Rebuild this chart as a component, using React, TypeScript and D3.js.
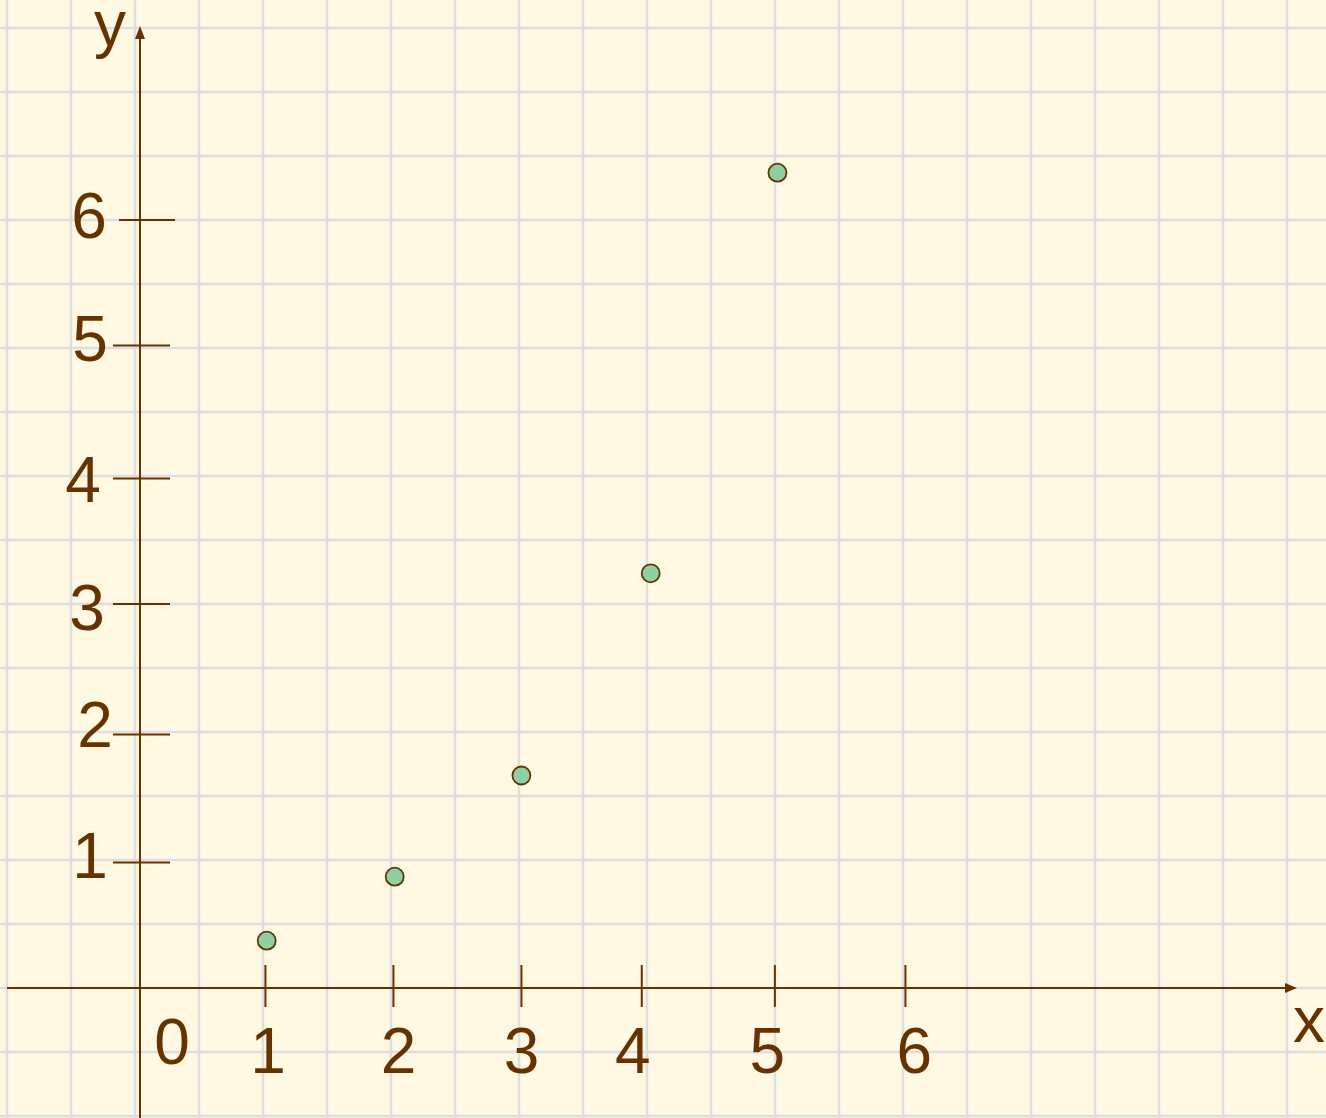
import React, { useEffect, useRef } from 'react';
import * as d3 from 'd3';

// points (x, y in plot units)
const pointX = [0.99, 1.99, 2.98, 3.99, 4.98];
const pointY = [0.37, 0.87, 1.66, 3.24, 6.37];

// tick marks as drawn (slightly hand placed)
const xTickValues = [0.98, 1.98, 2.98, 3.92, 4.96, 5.98];
const xTickLabels = ['1', '2', '3', '4', '5', '6'];
const xLabelAt = [1.0, 2.02, 2.98, 3.85, 4.9, 6.05];

const yTickValues = [0.98, 1.98, 3.0, 3.98, 5.02, 6.0];
const yTickLabels = ['1', '2', '3', '4', '5', '6'];
const yLabelAt = [0.86, 1.88, 2.8, 3.8, 4.9, 5.86];
const yLabelX = [90, 95, 87, 83, 90, 89];

const W = 1326;
const H = 1118;
const ink = '#663300';

function App() {
  const svgRef = useRef(null);

  useEffect(() => {
    document.body.style.margin = '0';
    const svg = d3.select(svgRef.current);
    svg.selectAll('*').remove();

    // one unit = 128px (two grid cells)
    const x = d3.scaleLinear().domain([0, 1]).range([140, 268]);
    const y = d3.scaleLinear().domain([0, 1]).range([988, 860]);

    svg.append('rect').attr('width', W).attr('height', H).attr('fill', '#fff8e3');

    // squared paper
    const grid = svg.append('g').attr('stroke', '#dedede').attr('stroke-width', 2.5);
    grid.selectAll('line.v')
      .data(d3.range(7, W, 64))
      .enter().append('line')
      .attr('x1', d => d).attr('x2', d => d)
      .attr('y1', 0).attr('y2', H);
    grid.selectAll('line.h')
      .data(d3.range(28, H, 64))
      .enter().append('line')
      .attr('y1', d => d).attr('y2', d => d)
      .attr('x1', 0).attr('x2', W);

    const axes = svg.append('g').attr('stroke', ink).attr('stroke-width', 2);
    // x axis
    axes.append('line')
      .attr('x1', 7).attr('x2', 1288)
      .attr('y1', y(0)).attr('y2', y(0));
    svg.append('path')
      .attr('d', `M1297,${y(0)} L1285,${y(0) - 5} L1285,${y(0) + 5} Z`)
      .attr('fill', ink);
    // y axis
    axes.append('line')
      .attr('x1', x(0)).attr('x2', x(0))
      .attr('y1', H).attr('y2', 36);
    svg.append('path')
      .attr('d', `M${x(0)},26 L${x(0) - 5},39 L${x(0) + 5},39 Z`)
      .attr('fill', ink);

    axes.selectAll('line.xt')
      .data(xTickValues)
      .enter().append('line')
      .attr('x1', d => x(d)).attr('x2', d => x(d))
      .attr('y1', 965).attr('y2', 1007);
    axes.selectAll('line.yt')
      .data(yTickValues)
      .enter().append('line')
      .attr('y1', d => y(d)).attr('y2', d => y(d))
      .attr('x1', (d, i) => (i === 5 ? 119 : 113))
      .attr('x2', (d, i) => (i === 5 ? 175 : 170));

    const text = svg.append('g')
      .attr('fill', ink)
      .attr('font-family', '"Liberation Sans", Arial, sans-serif')
      .attr('font-size', 64)
      .attr('text-anchor', 'middle');

    text.selectAll('text.xl')
      .data(xTickLabels)
      .enter().append('text')
      .attr('x', (d, i) => x(xLabelAt[i]))
      .attr('y', 1073)
      .text(d => d);
    text.selectAll('text.yl')
      .data(yTickLabels)
      .enter().append('text')
      .attr('x', (d, i) => yLabelX[i])
      .attr('y', (d, i) => y(yLabelAt[i]))
      .text(d => d);

    text.append('text').attr('x', 172).attr('y', 1064).text('0');
    text.append('text').attr('x', 110).attr('y', 46).text('y');
    text.append('text').attr('x', 1309).attr('y', 1042).text('x');

    svg.selectAll('circle')
      .data(pointX)
      .enter().append('circle')
      .attr('cx', d => x(d))
      .attr('cy', (d, i) => y(pointY[i]))
      .attr('r', 9)
      .attr('fill', '#8fd0a2')
      .attr('stroke', ink)
      .attr('stroke-width', 1.8);
  }, []);

  return <svg ref={svgRef} width={W} height={H} style={{ display: 'block' }}></svg>;
}

export default App;
